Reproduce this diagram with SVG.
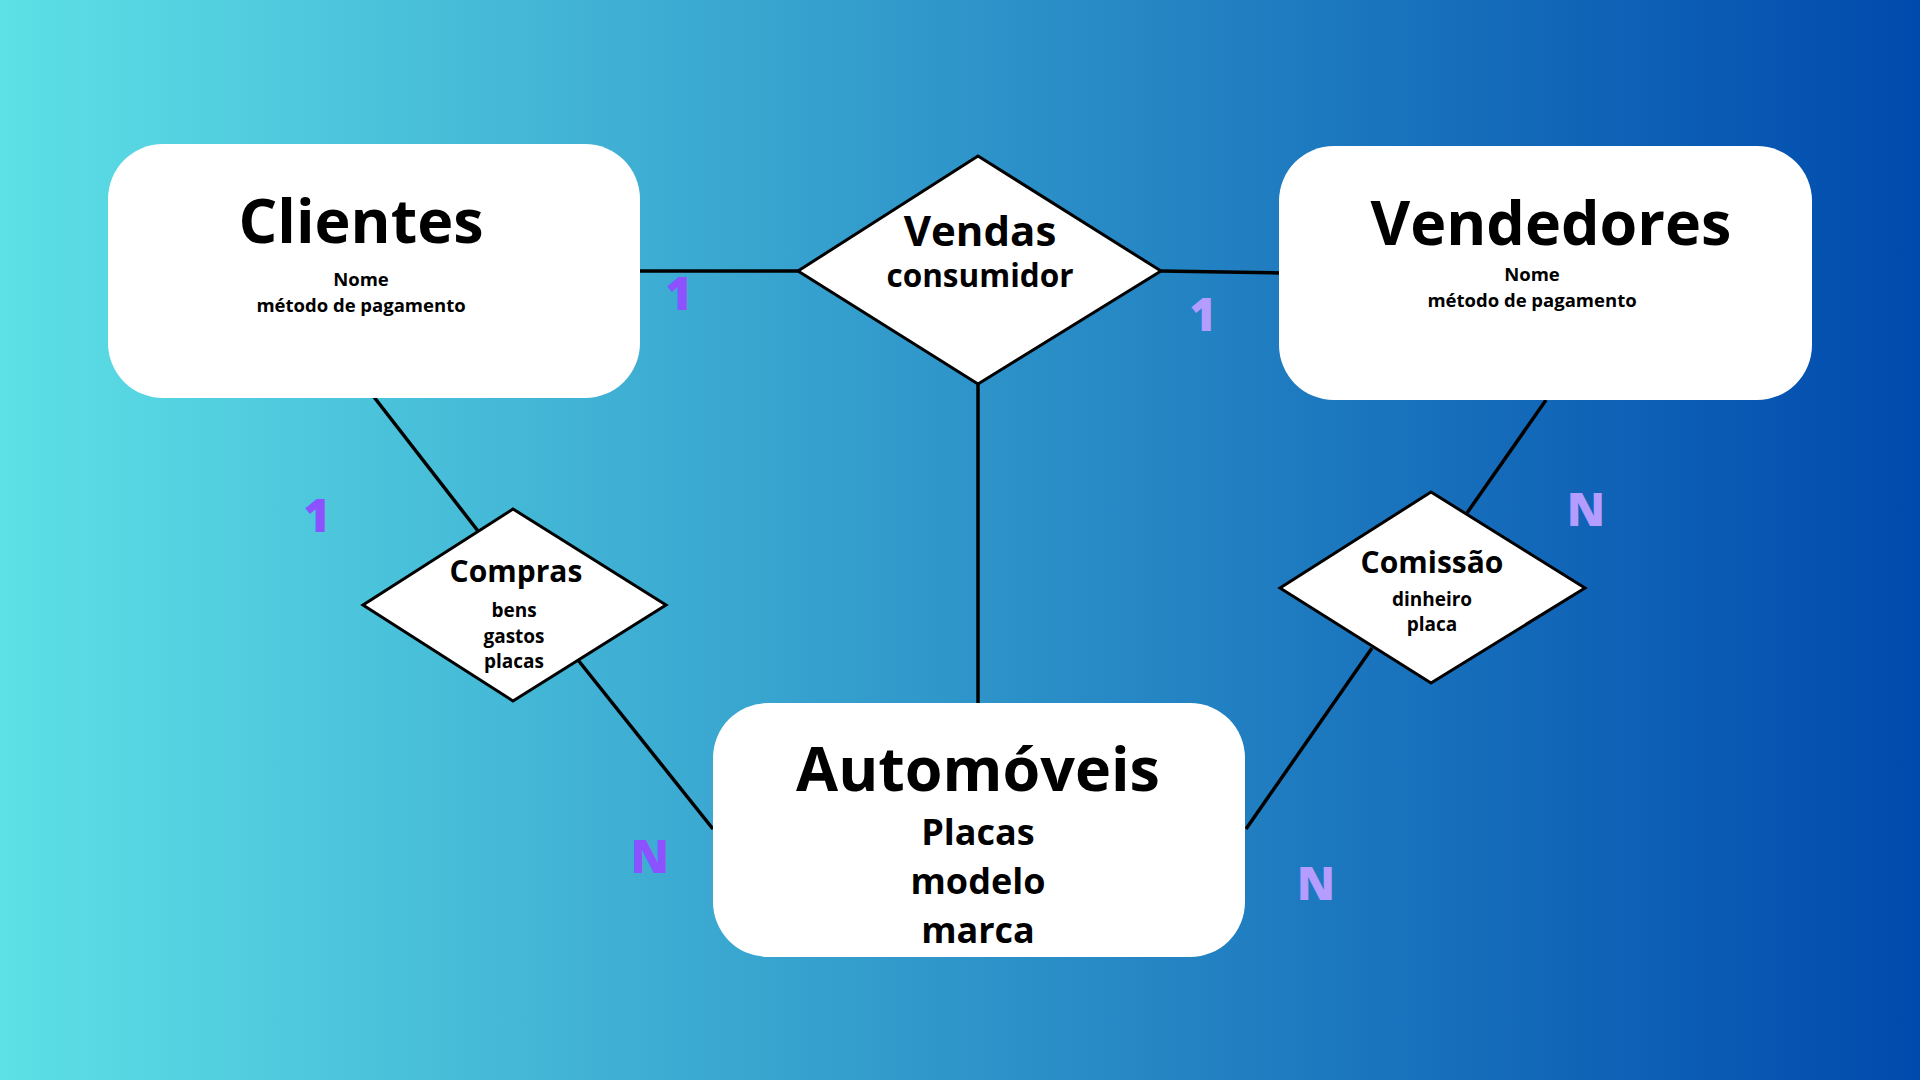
<svg xmlns="http://www.w3.org/2000/svg" width="1920" height="1080" viewBox="0 0 1920 1080">
  <defs>
    <linearGradient id="bg" x1="0" y1="0" x2="1" y2="0">
      <stop offset="0" stop-color="#5de0e6"/>
      <stop offset="1" stop-color="#004aad"/>
    </linearGradient>
    <style>
      text { font-family: "Open Sans", "Liberation Sans", sans-serif; font-weight: 700; fill: #000; text-anchor: middle; }
      .box { fill: #ffffff; }
      .dia { fill: #ffffff; stroke: #000; stroke-width: 3; stroke-linejoin: miter; }
      .conn line { stroke: #000; stroke-width: 3.5; stroke-linecap: butt; }
      .title { font-size: 61px; }
      .attr { font-size: 18.5px; }
      .rtitle { font-size: 30px; }
      .rattr { font-size: 19px; }
      .card { font-size: 46px; font-weight: 800; }
      .c1 { fill: #8c52ff; }
      .c2 { fill: #b59cff; }
    </style>
  </defs>
  <rect x="0" y="0" width="1920" height="1080" fill="url(#bg)"/>

  <g id="connectors" class="conn">
    <line x1="640" y1="271" x2="798" y2="271"/>
    <line x1="1161" y1="271" x2="1280" y2="273"/>
    <line x1="978" y1="384" x2="978" y2="703"/>
    <line x1="374" y1="397" x2="478" y2="531"/>
    <line x1="578" y1="660" x2="713" y2="829"/>
    <line x1="1546" y1="400" x2="1467" y2="513"/>
    <line x1="1372" y1="648" x2="1246" y2="829"/>
  </g>

  <g id="clientes">
    <rect class="box" x="108" y="144" width="532" height="254" rx="55" ry="55"/>
    <text class="title" x="361" y="243">Clientes</text>
    <text class="attr" x="361" y="286">Nome</text>
    <text class="attr" x="361" y="312">método de pagamento</text>
  </g>

  <g id="vendedores">
    <rect class="box" x="1279" y="146" width="533" height="254" rx="55" ry="55"/>
    <text class="title" x="1551" y="245">Vendedores</text>
    <text class="attr" x="1532" y="281">Nome</text>
    <text class="attr" x="1532" y="307">método de pagamento</text>
  </g>

  <g id="automoveis">
    <rect class="box" x="713" y="703" width="532" height="254" rx="55" ry="55"/>
    <text class="title" x="978" y="791">Automóveis</text>
    <text x="978" y="845" font-size="36">Placas</text>
    <text x="978" y="894" font-size="36">modelo</text>
    <text x="978" y="943" font-size="36">marca</text>
  </g>

  <g id="vendas">
    <polygon class="dia" points="978,156 1161,271 978,384 798,271"/>
    <text x="980" y="246" font-size="42">Vendas</text>
    <text x="980" y="287" font-size="31.5">consumidor</text>
  </g>

  <g id="compras">
    <polygon class="dia" points="513,509 666,605 513,701 363,605"/>
    <text class="rtitle" x="516" y="582">Compras</text>
    <text class="rattr" x="514" y="617">bens</text>
    <text class="rattr" x="514" y="643">gastos</text>
    <text class="rattr" x="514" y="668">placas</text>
  </g>

  <g id="comissao">
    <polygon class="dia" points="1431,492 1585,588 1431,683 1280,588"/>
    <text class="rtitle" x="1432" y="573">Comissão</text>
    <text class="rattr" x="1432" y="606">dinheiro</text>
    <text class="rattr" x="1432" y="631">placa</text>
  </g>

  <g id="cardinalities">
    <text class="card c1" x="679" y="310">1</text>
    <text class="card c2" x="1203" y="331">1</text>
    <text class="card c1" x="317" y="532">1</text>
    <text class="card c2" x="1586" y="526">N</text>
    <text class="card c1" x="650" y="873">N</text>
    <text class="card c2" x="1316" y="900">N</text>
  </g>
</svg>
